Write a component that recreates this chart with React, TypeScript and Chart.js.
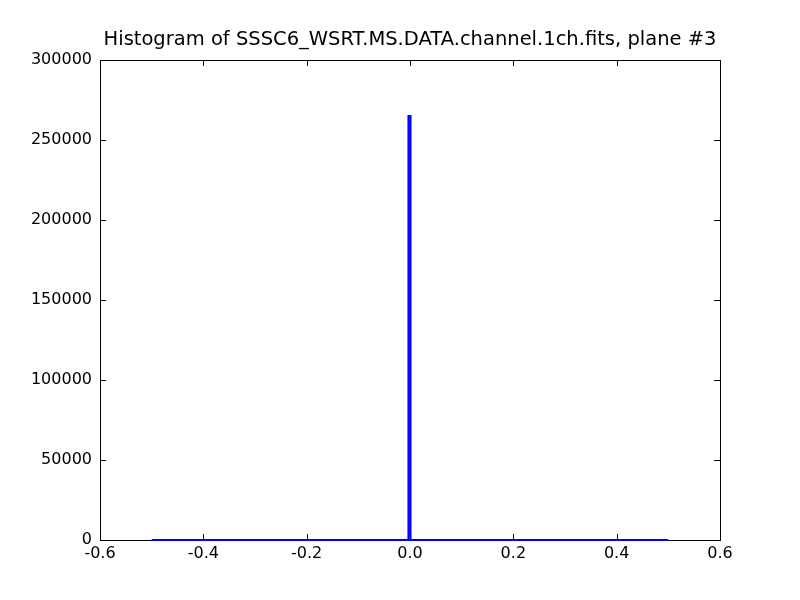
import React, { useEffect, useRef } from "react";
import { Chart, registerables } from "chart.js";

Chart.register(...registerables);

const titleText = "Histogram of SSSC6_WSRT.MS.DATA.channel.1ch.fits, plane #3";
const binEdges = [-0.5, -0.003, 0.001, 0.5];
const binCounts = [0, 265000, 0];
const xTicks = [-0.6, -0.4, -0.2, 0.0, 0.2, 0.4, 0.6];
const yTicks = [0, 50000, 100000, 150000, 200000, 250000, 300000];

function stepPoints(edges: number[], counts: number[]) {
  const pts: { x: number; y: number }[] = [{ x: edges[0], y: 0 }];
  for (let i = 0; i < counts.length; i++) {
    pts.push({ x: edges[i], y: counts[i] });
    pts.push({ x: edges[i + 1], y: counts[i] });
  }
  pts.push({ x: edges[edges.length - 1], y: 0 });
  return pts;
}

const framePlugin = {
  id: "mplFrame",
  beforeDatasetsDraw(chart: any) {
    const { ctx, chartArea: a, scales } = chart;
    const tl = 6;
    ctx.save();
    ctx.strokeStyle = "#000";
    ctx.lineWidth = 1;
    ctx.beginPath();
    xTicks.forEach((v) => {
      const px = Math.round(scales.x.getPixelForValue(v)) + 0.5;
      ctx.moveTo(px, a.bottom);
      ctx.lineTo(px, a.bottom - tl);
      ctx.moveTo(px, a.top);
      ctx.lineTo(px, a.top + tl);
    });
    yTicks.forEach((v) => {
      const py = Math.round(scales.y.getPixelForValue(v)) + 0.5;
      ctx.moveTo(a.left, py);
      ctx.lineTo(a.left + tl, py);
      ctx.moveTo(a.right, py);
      ctx.lineTo(a.right - tl, py);
    });
    ctx.stroke();
    ctx.strokeRect(a.left + 0.5, a.top + 0.5, a.right - a.left, a.bottom - a.top);
    ctx.fillStyle = "#000";
    ctx.font = "19.5px 'DejaVu Sans'";
    ctx.textAlign = "center";
    ctx.textBaseline = "alphabetic";
    ctx.fillText(titleText, (a.left + a.right) / 2, 45);
    ctx.restore();
  },
};

export default function App() {
  const ref = useRef<HTMLCanvasElement | null>(null);
  useEffect(() => {
    document.body.style.margin = "0";
    if (!ref.current) return;
    const chart = new Chart(ref.current, {
      type: "line",
      data: {
        datasets: [
          {
            data: stepPoints(binEdges, binCounts),
            borderColor: "#0000ff",
            borderWidth: 2,
            pointRadius: 0,
            tension: 0,
            fill: false,
            clip: false,
          },
        ],
      },
      options: {
        animation: false,
        responsive: false,
        devicePixelRatio: 1,
        layout: { padding: { top: 60, right: 80, left: 0, bottom: 0 } },
        plugins: { legend: { display: false }, tooltip: { enabled: false }, title: { display: false } },
        scales: {
          x: {
            type: "linear",
            min: -0.6,
            max: 0.6,
            grid: { display: false, drawTicks: false },
            border: { display: false },
            afterFit: (s: any) => { s.height = 60; },
            afterBuildTicks: (s: any) => { s.ticks = xTicks.map((v) => ({ value: v })); },
            ticks: {
              color: "#000",
              padding: 4,
              maxRotation: 0,
              autoSkip: false,
              font: { family: "'DejaVu Sans'", size: 16 },
              callback: (v: any) => Number(v).toFixed(1),
            },
          },
          y: {
            min: 0,
            max: 300000,
            grid: { display: false, drawTicks: false },
            border: { display: false },
            afterFit: (s: any) => { s.width = 100; },
            afterBuildTicks: (s: any) => { s.ticks = yTicks.map((v) => ({ value: v })); },
            ticks: {
              color: "#000",
              padding: 8,
              autoSkip: false,
              font: { family: "'DejaVu Sans'", size: 16 },
              callback: (v: any) => String(v),
            },
          },
        },
      },
      plugins: [framePlugin],
    });
    return () => chart.destroy();
  }, []);
  return (
    <div style={{ position: "absolute", left: 0, top: 0, width: 800, height: 600, background: "#fff" }}>
      <canvas ref={ref} width={800} height={600} />
    </div>
  );
}
